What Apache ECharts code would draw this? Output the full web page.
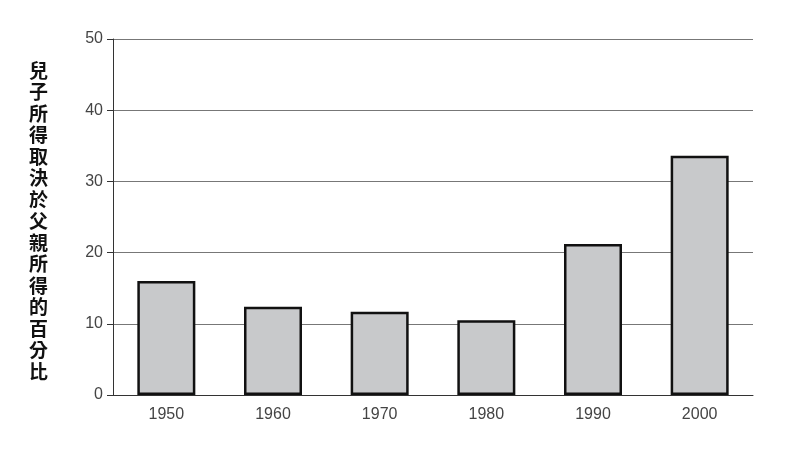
<!DOCTYPE html>
<html>
<head>
<meta charset="UTF-8">
<script src="https://cdn.jsdelivr.net/npm/echarts@6/dist/echarts.min.js"></script>
</head>
<body style="margin:0">
<div id="div1" style="width:792px;height:450px"></div>
<script type="text/javascript">
var years = ['1950', '1960', '1970', '1980', '1990', '2000'];
var values = [16.0, 12.4, 11.7, 10.5, 21.2, 33.6];
var yLabel = '兒子所得取決於父親所得的百分比';

var myChart = echarts.init(document.getElementById('div1'));
var option = {
    animation: false,
    grid: { left: 113, right: 39, top: 39, bottom: 55 },
    graphic: [{
        type: 'text',
        left: 29,
        top: 60,
        style: {
            text: yLabel.split('').join('\n'),
            font: 'bold 19px "Noto Sans CJK TC"',
            lineHeight: 21.5,
            fill: '#111'
        }
    }],
    xAxis: {
        type: 'category',
        data: years,
        axisLine: { lineStyle: { color: '#333' } },
        axisTick: { length: 8, lineStyle: { color: '#333' } },
        axisLabel: { color: '#444', fontSize: 16, margin: 12, fontFamily: 'Liberation Sans' }
    },
    yAxis: {
        type: 'value',
        min: 0, max: 50, interval: 10,
        axisLine: { show: true, lineStyle: { color: '#333' } },
        axisTick: { show: true, length: 6, lineStyle: { color: '#333' } },
        axisLabel: { color: '#444', fontSize: 16, margin: 10, fontFamily: 'Liberation Sans' },
        splitLine: { lineStyle: { color: '#777' } }
    },
    series: [{
        type: 'bar',
        data: values,
        barWidth: 58,
        itemStyle: { color: '#c8c9cb', borderColor: '#111', borderWidth: 2.5 }
    }]
};
myChart.setOption(option);
</script>
</body>
</html>
